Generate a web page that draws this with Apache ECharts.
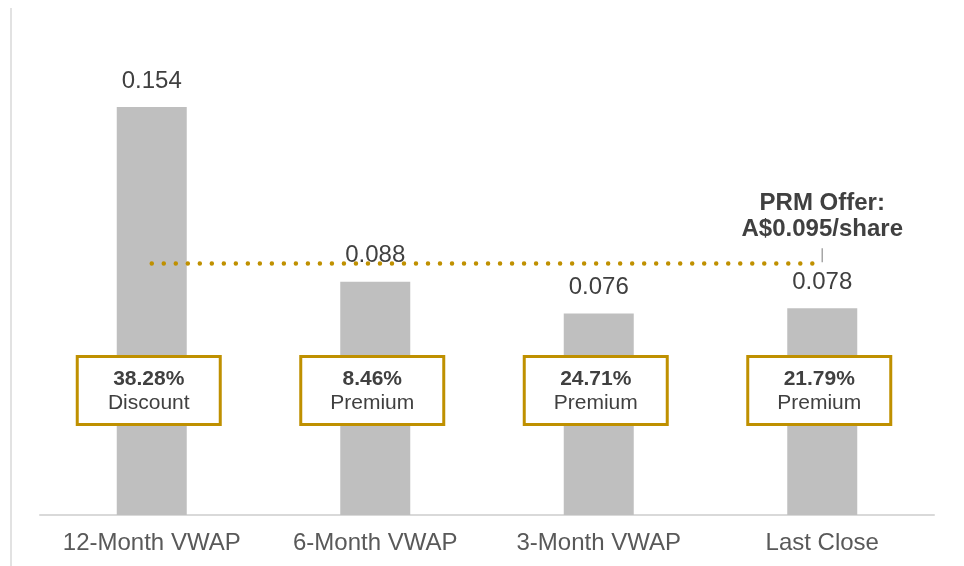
<!DOCTYPE html>
<html>
<head>
<meta charset="utf-8">
<script src="https://cdn.jsdelivr.net/npm/echarts@6/dist/echarts.min.js"></script>
<style>
    html, body { margin: 0; padding: 0; background: #fff; }
    #chart { width: 964px; height: 566px; }
</style>
</head>
<body>
<div id="chart"></div>
<script>
// data
var categories = ['12-Month VWAP', '6-Month VWAP', '3-Month VWAP', 'Last Close'];
var vwapValues = [0.154, 0.088, 0.076, 0.078];
var pctValues = ['38.28%', '8.46%', '24.71%', '21.79%'];
var pctTypes = ['Discount', 'Premium', 'Premium', 'Premium'];
var offerPrice = 0.095;
var offerText = ['PRM Offer:', 'A$0.095/share'];

var GOLD = '#BF9000';
var BAR = '#BFBFBF';
var TXT = '#404040';
var FONT = 'Arial, "Liberation Sans", sans-serif';

var dom = document.getElementById('chart');
var myChart = echarts.init(dom);
var option = null;

option = {
    animation: false,
    textStyle: {fontFamily: FONT},
    grid: {left: 40, right: 30, top: 38, bottom: 51},
    graphic: [{
        type: 'line',
        shape: {x1: 11, y1: 8, x2: 11, y2: 566},
        style: {stroke: '#D9D9D9', lineWidth: 1.5}
    }],
    xAxis: {
        type: 'category',
        data: categories,
        axisLine: {lineStyle: {color: '#D9D9D9', width: 2}},
        axisTick: {show: false},
        axisLabel: {
            interval: 0,
            hideOverlap: false,
            color: '#595959',
            fontSize: 24,
            fontFamily: FONT,
            margin: 16
        }
    },
    yAxis: {
        type: 'value',
        min: 0,
        max: 0.18,
        show: false,
        splitLine: {show: false}
    },
    series: [
        {
            name: 'VWAP',
            type: 'bar',
            data: vwapValues,
            barWidth: 70,
            itemStyle: {color: BAR},
            label: {
                show: true,
                position: 'top',
                distance: 14,
                color: TXT,
                fontSize: 24,
                fontFamily: FONT,
                formatter: function (p) {
                    return p.value.toFixed(3);
                }
            },
            markLine: {
                silent: true,
                symbol: ['none', 'none'],
                label: {show: false},
                lineStyle: {color: GOLD, type: [0.01, 12], cap: 'round', width: 4.5},
                data: [[
                    {coord: [categories[0], offerPrice]},
                    {coord: [categories[categories.length - 1], offerPrice]}
                ]]
            },
            markPoint: {
                silent: true,
                symbol: 'rect',
                symbolSize: [1.5, 14],
                symbolOffset: [0, -8],
                itemStyle: {color: '#A6A6A6'},
                label: {
                    show: true,
                    position: 'top',
                    distance: 6,
                    color: TXT,
                    fontSize: 24,
                    fontWeight: 'bold',
                    lineHeight: 26,
                    fontFamily: FONT,
                    formatter: offerText.join('\n')
                },
                data: [{coord: [categories[categories.length - 1], offerPrice]}]
            }
        },
        { // boxes with premium / discount
            name: 'pct',
            type: 'bar',
            data: vwapValues,
            barWidth: 70,
            barGap: '-100%',
            silent: true,
            itemStyle: {color: 'rgba(0,0,0,0)'},
            label: {
                show: true,
                position: 'insideBottom',
                distance: 92,
                offset: [-3, 0],
                backgroundColor: '#fff',
                borderColor: GOLD,
                borderWidth: 3,
                padding: [9, 5, 8, 5],
                width: 130,
                align: 'center',
                formatter: function (p) {
                    return '{b|' + pctValues[p.dataIndex] + '}\n{n|' + pctTypes[p.dataIndex] + '}';
                },
                rich: {
                    b: {fontSize: 21, fontWeight: 'bold', color: TXT, lineHeight: 24, fontFamily: FONT, align: 'center'},
                    n: {fontSize: 21, color: TXT, lineHeight: 24, fontFamily: FONT, align: 'center'}
                }
            }
        }
    ]
};

if (option && typeof option === "object") {
    myChart.setOption(option, true);
}
</script>
</body>
</html>
